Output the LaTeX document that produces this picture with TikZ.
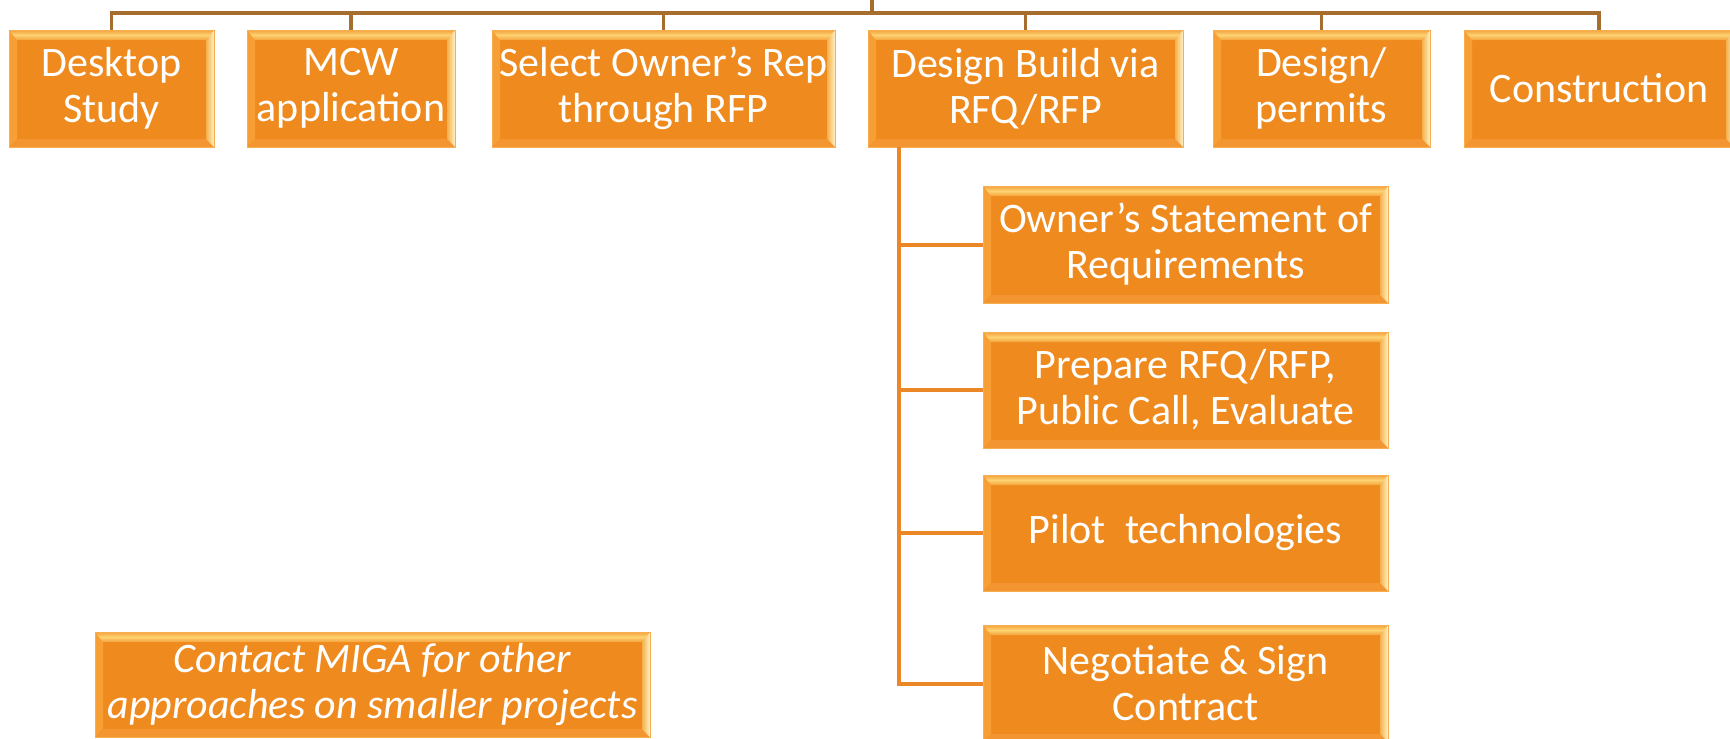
\documentclass[tikz,border=0pt]{standalone}
\usepackage{fontspec}
\setmainfont{Carlito}
\usetikzlibrary{calc}

\definecolor{boxorange}{HTML}{EF8A1E}
\definecolor{bevtop}{HTML}{FDD372}
\definecolor{bevtopedge}{HTML}{F5A23C}
\definecolor{bevleft}{HTML}{F79E34}
\definecolor{bevrightin}{HTML}{F5B04C}
\definecolor{bevrightout}{HTML}{FFF2C6}
\definecolor{bevbottom}{HTML}{F39632}
\definecolor{boxedge}{HTML}{F7AE50}
\definecolor{trunkbrown}{HTML}{A56E2E}
\definecolor{branchorange}{HTML}{EB8727}

% soft grey towards the page corners
\pgfdeclareradialshading{pagebg}{\pgfpoint{0bp}{0bp}}{color(0bp)=(white); color(42bp)=(white); color(71bp)=(black!8)}

\tikzset{
  box/.style={rectangle, fill=boxorange, draw=boxedge, line width=0.8pt,
    text=white, align=center, inner sep=0pt, minimum height=117pt,
    font=\fontsize{42}{46}\selectfont,
    path picture={
      \coordinate (bnw) at (path picture bounding box.north west);
      \coordinate (bne) at (path picture bounding box.north east);
      \coordinate (bsw) at (path picture bounding box.south west);
      \coordinate (bse) at (path picture bounding box.south east);
      \fill[bevleft] (bnw) -- ($(bnw)+(8pt,-8pt)$) -- ($(bsw)+(8pt,8pt)$) -- (bsw) -- cycle;
      \fill[bevbottom] (bsw) -- ($(bsw)+(8pt,8pt)$) -- ($(bse)+(-8pt,8pt)$) -- (bse) -- cycle;
      \shade[left color=bevrightin, right color=bevrightout]
        (bne) -- ($(bne)+(-8pt,-8pt)$) -- ($(bse)+(-8pt,8pt)$) -- (bse) -- cycle;
      \shade[top color=bevtopedge, bottom color=bevtopedge, middle color=bevtop]
        (bnw) -- (bne) -- ($(bne)+(-8pt,-10pt)$) -- ($(bnw)+(8pt,-10pt)$) -- cycle;
    }},
  trunkline/.style={draw=trunkbrown, line width=3.5pt},
  branchline/.style={draw=branchorange, line width=4pt},
}

\begin{document}
\begin{tikzpicture}[x=1pt, y=-1pt]
  \useasboundingbox (0,0) rectangle (1730,739);
  \shade[shading=pagebg] (0,0) rectangle (1730,739);

  % top row of phases
  \node[box, minimum width=205pt] (desk) at (111.5,88.5) {Desktop\\Study};
  \node[box, minimum width=208pt] (mcw)  at (351,88.5) {MCW\\application};
  \node[box, minimum width=343pt] (sel)  at (663.5,88.5) {Select Owner’s Rep\\through RFP};
  \node[box, minimum width=315pt] (db)   at (1025.5,88.5) {Design Build via\\RFQ/RFP};
  \node[box, minimum width=217pt] (dp)   at (1321.5,88.5) {Design/\\permits};
  \node[box, minimum width=270pt] (con)  at (1599,88.5) {Construction};

  % steps under Design Build
  \node[box, minimum width=405pt] (osr)   at (1185.5,244.5) {Owner’s Statement of\\Requirements};
  \node[box, minimum width=405pt, minimum height=116pt] (prep) at (1185.5,390) {Prepare RFQ/RFP,\\Public Call, Evaluate};
  \node[box, minimum width=405pt, minimum height=116pt] (pilot) at (1185.5,533) {Pilot\ \ technologies};
  \node[box, minimum width=405pt] (neg)   at (1185.5,683.5) {Negotiate \& Sign\\Contract};

  % side note
  \node[box, minimum width=555pt, minimum height=105pt, font=\fontsize{42}{46}\selectfont\itshape] (miga) at (372.5,684.5)
    {Contact MIGA for other\\approaches on smaller projects};

  % trunk from the root to every phase
  \coordinate (root) at (872,0);
  \coordinate (bar) at (872,13);
  \draw[trunkline] (root) -- (bar);
  \draw[trunkline, line join=miter] (desk.north) -- (bar -| desk.north) -- (bar -| con.north) -- (con.north);
  \foreach \n in {mcw, sel, db, dp}
    \draw[trunkline] (bar -| \n.north) -- (\n.north);

  % branch from Design Build to its steps
  \coordinate (stem) at ($(db.south west)+(31pt,0pt)$);
  \draw[branchline] (stem) |- (neg.west);
  \foreach \n in {osr, prep, pilot}
    \draw[branchline] (stem |- \n.west) -- (\n.west);
\end{tikzpicture}
\end{document}
